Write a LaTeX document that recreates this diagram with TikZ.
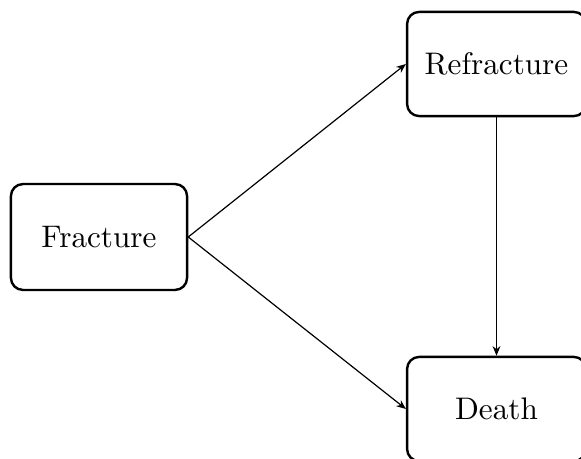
\documentclass[tikz,border=0pt]{standalone}
\usepackage{fontspec}
\usetikzlibrary{arrows.meta}
\begin{document}
\begin{tikzpicture}[x=0.3333pt,y=-0.3333pt,
  box/.style={draw,line width=0.8pt,rounded corners=4pt,minimum width=59.6pt,minimum height=34.7pt,inner sep=0pt,font=\fontsize{10.4}{12}\selectfont},
  conn/.style={line width=0.4pt,-{Stealth[length=3.2pt,width=2.6pt]}}]
\useasboundingbox (0,0) rectangle (581,459);
\node[box,minimum width=58.7pt,minimum height=35.3pt] (frac) at (99,237) {Fracture};
\node[box] (refr) at (496.5,64) {Refracture};
\node[box] (death) at (496.5,409) {Death};
\draw[conn] (frac.east) -- (refr.west);
\draw[conn] (frac.east) -- (death.west);
\draw[conn] (refr.south) -- (death.north);
\end{tikzpicture}
\end{document}
